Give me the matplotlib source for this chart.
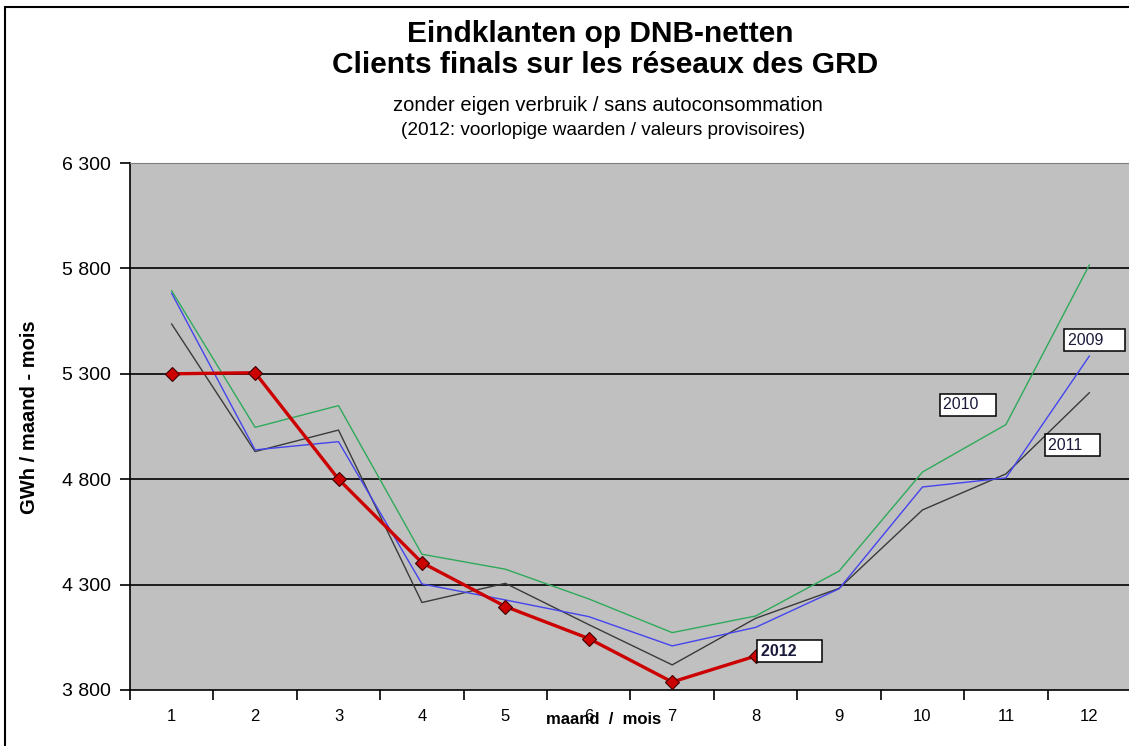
import matplotlib

matplotlib.use("Agg")
import matplotlib.pyplot as plt
from matplotlib.patches import Rectangle
import numpy as np

plt.rcParams["font.family"] = ["Liberation Sans", "DejaVu Sans"]

months = list(range(1, 13))
y2009 = [5682, 4939, 4978, 4303, 4227, 4148, 4009, 4097, 4280, 4763, 4806, 5384]
y2010 = [5694, 5046, 5149, 4444, 4373, 4232, 4072, 4151, 4364, 4834, 5059, 5816]
y2011 = [5536, 4931, 5033, 4215, 4306, 4110, 3919, 4140, 4282, 4654, 4825, 5210]
y2012 = [5300, 5305, 4800, 4404, 4196, 4044, 3838, 3961]

yticks = [3800, 4300, 4800, 5300, 5800, 6300]

fig = plt.figure(figsize=(11.29, 7.46), dpi=100)
fig.patches.append(Rectangle((0.004, -0.1), 1.2, 1.09, transform=fig.transFigure,
                             fill=False, edgecolor="black", linewidth=1.5))

ax = fig.add_axes([0.1151, 0.0751, 0.8867, 0.7064])
ax.set_facecolor("#C0C0C0")

for y in yticks[1:-1]:
    ax.axhline(y, color="black", linewidth=1.2, zorder=1)

ax.plot(months, y2011, color="#3a3a3a", linewidth=1.0, zorder=2)
ax.plot(months, y2009, color="#4444ee", linewidth=1.0, zorder=3)
ax.plot(months, y2010, color="#2eaa5a", linewidth=1.0, zorder=3)
ax.plot(months[:len(y2012)], y2012, color="#cc0000", linewidth=2.4, zorder=4,
        marker="D", markersize=7.5, markerfacecolor="#cc0000", markeredgecolor="#400000",
        markeredgewidth=0.8)

# jaarlabels in witte kaders
box = dict(boxstyle="square,pad=0.22", facecolor="white", edgecolor="black", linewidth=1.1)
lbl_color = "#1a1a3a"
ax.text(11.74, 5460, "2009    ", fontsize=11.5, color=lbl_color, va="center", bbox=box, zorder=5)
ax.text(10.25, 5154, "2010   ", fontsize=11.5, color=lbl_color, va="center", bbox=box, zorder=5)
ax.text(11.51, 4960, "2011   ", fontsize=11.5, color=lbl_color, va="center", bbox=box, zorder=5)
ax.text(8.06, 3983, "2012     ", fontsize=11.5, color=lbl_color, fontweight="bold",
        va="center", bbox=box, zorder=5)

ax.set_xlim(0.5, 12.5)
ax.set_ylim(3800, 6300)
ax.set_yticks(yticks)
ax.set_yticklabels([f"{v:,}".replace(",", " ") for v in yticks], fontsize=14)
ax.set_xticks(months)
ax.set_xticklabels([str(m) for m in months], fontsize=12)
ax.set_xticks(np.arange(0.5, 13, 1), minor=True)
ax.tick_params(axis="x", which="major", length=0, pad=14)
ax.tick_params(axis="x", which="minor", length=7, width=1.2, direction="out")
ax.tick_params(axis="y", length=7, width=1.2, direction="out", pad=7)

ax.spines["top"].set_color("#808080")
ax.spines["right"].set_visible(False)
ax.spines["left"].set_linewidth(1.2)
ax.spines["bottom"].set_linewidth(1.2)

fig.text(0.532, 0.944, "Eindklanten op DNB-netten", ha="center", va="baseline",
         fontsize=21.5, fontweight="bold")
fig.text(0.536, 0.902, "Clients finals sur les réseaux des GRD", ha="center", va="baseline",
         fontsize=21.5, fontweight="bold")
fig.text(0.538, 0.851, "zonder eigen verbruik / sans autoconsommation", ha="center",
         va="baseline", fontsize=14.5)
fig.text(0.534, 0.819, "(2012: voorlopige waarden / valeurs provisoires)", ha="center",
         va="baseline", fontsize=13.7)
fig.text(0.535, 0.035, "maand  /  mois", ha="center", va="center", fontsize=12,
         fontweight="bold")
fig.text(0.026, 0.441, "GWh / maand - mois", ha="center", va="center", fontsize=14.5,
         fontweight="bold", rotation=90)

fig.savefig("out.png", dpi=100)
